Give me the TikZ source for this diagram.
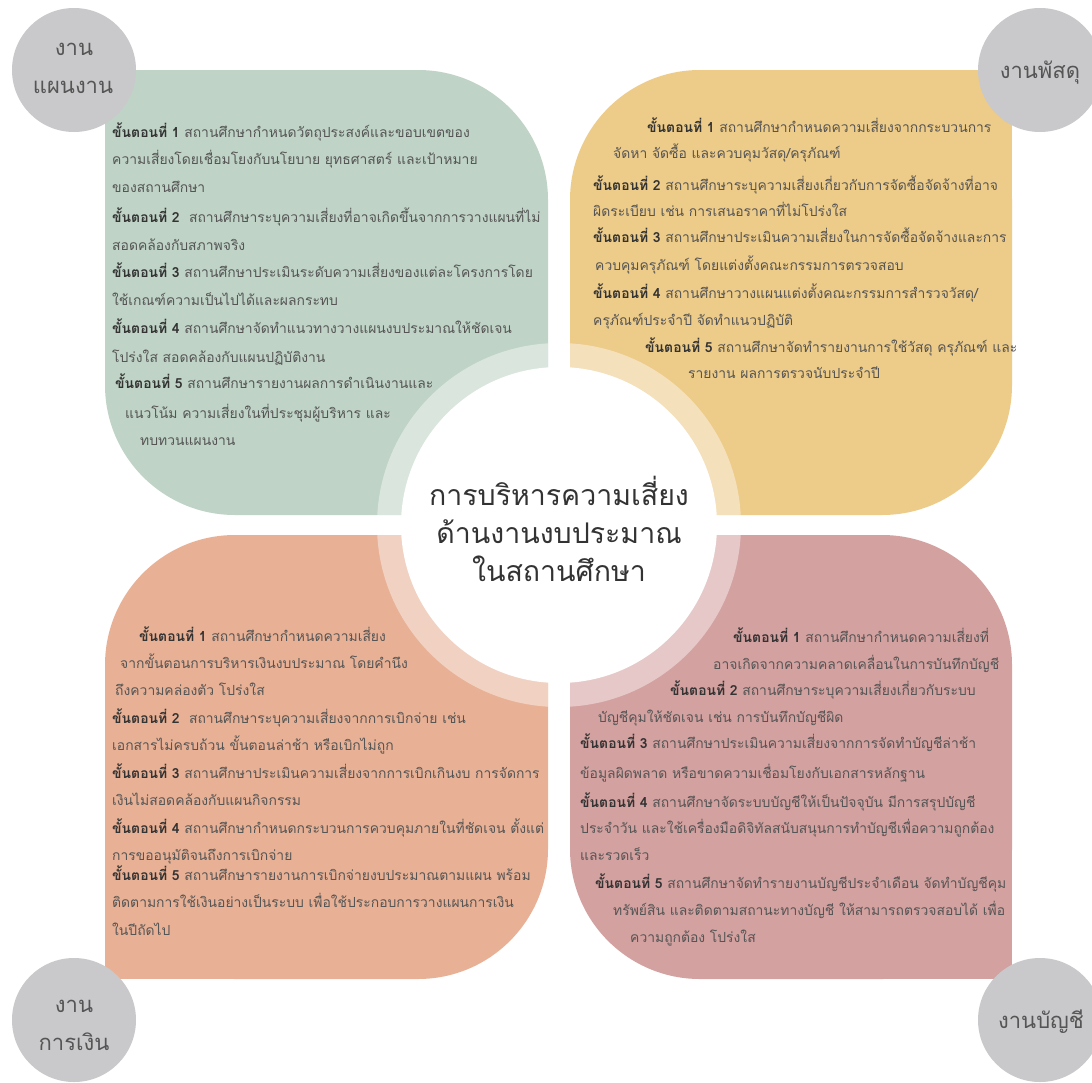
\documentclass[tikz,border=0pt]{standalone}
\usepackage{fontspec}
\setmainfont[Script=Thai]{Loma}
\definecolor{cg}{HTML}{BFD3C6}
\definecolor{cy}{HTML}{EDCB89}
\definecolor{co}{HTML}{E8B195}
\definecolor{cp}{HTML}{D3A19F}
\definecolor{cgray}{HTML}{C9C9CB}
\definecolor{txt}{HTML}{555555}
\definecolor{txtb}{HTML}{333333}
\newcommand\stp[1]{\textbf{\color{txtb}ขั้นตอนที่ #1}}
\newcommand\qline[4]{\node[bt] (#1) at (#2,#3) {#4};}
\begin{document}
\begin{tikzpicture}[x=1pt,y=-1pt,
  bt/.style={anchor=base west,inner sep=0pt,text=txt,font=\fontsize{13.9}{16}\selectfont},
  ttl/.style={anchor=base,inner sep=0pt,text=txtb,font=\fontsize{28.5}{32}\selectfont},
  lab/.style={anchor=base,inner sep=0pt,text=txt,font=\fontsize{22}{26}\selectfont},
  gcirc/.style={circle,fill=cgray,minimum size=124pt,inner sep=0pt},
  ring/.style={fill=white,opacity=0.42}]
\useasboundingbox (0,0) rectangle (1092,1082);
\clip (0,0) rectangle (1092,1082);
\fill[white] (0,0) rectangle (1092,1082);
% green (top-left)
\fill[cg,rounded corners=130pt] (105,70) rectangle (548,515);
\fill[cg] (105,70) rectangle (250,215);
\fill[cg] (400,370) rectangle (548,515);
\begin{scope}\clip (105,70) rectangle (548,515);\fill[ring] (559,525) circle[radius=182];\end{scope}
% yellow (top-right)
\fill[cy,rounded corners=130pt] (570,70) rectangle (1012,515);
\fill[cy] (870,70) rectangle (1012,215);
\fill[cy] (570,370) rectangle (720,515);
\begin{scope}\clip (570,70) rectangle (1012,515);\fill[ring] (559,525) circle[radius=182];\end{scope}
% orange (bottom-left)
\fill[co,rounded corners=130pt] (105,535) rectangle (548,979);
\fill[co] (105,835) rectangle (250,979);
\fill[co] (400,535) rectangle (548,680);
\begin{scope}\clip (105,535) rectangle (548,979);\fill[ring] (559,525) circle[radius=182];\end{scope}
% pink (bottom-right)
\fill[cp,rounded corners=130pt] (570,535) rectangle (1012,979);
\fill[cp] (870,835) rectangle (1012,979);
\fill[cp] (570,535) rectangle (720,680);
\begin{scope}\clip (570,535) rectangle (1012,979);\fill[ring] (559,525) circle[radius=182];\end{scope}
% centre
\node[circle,fill=white,minimum size=316pt,inner sep=0pt] (ctr) at (559,525) {};
\node[ttl] (t1) at (559,505) {การบริหารความเสี่ยง};
\node[ttl] (t2) at (559,543) {ด้านงานงบประมาณ};
\node[ttl] (t3) at (559,581) {ในสถานศึกษา};
% corner circles
\node[gcirc] (cTL) at (74,70) {};
\node[gcirc] (cTR) at (1040,70) {};
\node[gcirc] (cBL) at (74,1020) {};
\node[gcirc] (cBR) at (1040,1020) {};
\node[lab] (lTL1) at (74,55) {งาน};
\node[lab] (lTL2) at (73,93) {แผนงาน};
\node[lab] (lTR) at (1040,78) {งานพัสดุ};
\node[lab] (lBL1) at (74,1012) {งาน};
\node[lab] (lBL2) at (74,1050) {การเงิน};
\node[lab] (lBR) at (1041,1028) {งานบัญชี};
% green text
\qline{g1}{112}{137}{\stp{1} สถานศึกษากำหนดวัตถุประสงค์และขอบเขตของ}
\qline{g2}{112}{164}{ความเสี่ยงโดยเชื่อมโยงกับนโยบาย ยุทธศาสตร์ และเป้าหมาย}
\qline{g3}{112}{192}{ของสถานศึกษา}
\qline{g4}{112}{222}{\stp{2}\ \ สถานศึกษาระบุความเสี่ยงที่อาจเกิดขึ้นจากการวางแผนที่ไม่}
\qline{g5}{112}{250}{สอดคล้องกับสภาพจริง}
\qline{g6}{112}{277}{\stp{3} สถานศึกษาประเมินระดับความเสี่ยงของแต่ละโครงการโดย}
\qline{g7}{112}{305}{ใช้เกณฑ์ความเป็นไปได้และผลกระทบ}
\qline{g8}{112}{333}{\stp{4} สถานศึกษาจัดทำแนวทางวางแผนงบประมาณให้ชัดเจน}
\qline{g9}{112}{362}{โปร่งใส สอดคล้องกับแผนปฏิบัติงาน}
\qline{g10}{115}{388}{\stp{5} สถานศึกษารายงานผลการดำเนินงานและ}
\qline{g11}{125}{418}{แนวโน้ม ความเสี่ยงในที่ประชุมผู้บริหาร และ}
\qline{g12}{140}{445}{ทบทวนแผนงาน}
% yellow text
\qline{y1}{647}{132}{\stp{1} สถานศึกษากำหนดความเสี่ยงจากกระบวนการ}
\qline{y2}{613}{158}{จัดหา จัดซื้อ และควบคุมวัสดุ/ครุภัณฑ์}
\qline{y3}{593}{190}{\stp{2} สถานศึกษาระบุความเสี่ยงเกี่ยวกับการจัดซื้อจัดจ้างที่อาจ}
\qline{y4}{593}{216}{ผิดระเบียบ เช่น การเสนอราคาที่ไม่โปร่งใส}
\qline{y5}{593}{242}{\stp{3} สถานศึกษาประเมินความเสี่ยงในการจัดซื้อจัดจ้างและการ}
\qline{y6}{595}{270}{ควบคุมครุภัณฑ์ โดยแต่งตั้งคณะกรรมการตรวจสอบ}
\qline{y7}{593}{298}{\stp{4} สถานศึกษาวางแผนแต่งตั้งคณะกรรมการสำรวจวัสดุ/}
\qline{y8}{593}{325}{ครุภัณฑ์ประจำปี จัดทำแนวปฏิบัติ}
\qline{y9}{645}{352}{\stp{5} สถานศึกษาจัดทำรายงานการใช้วัสดุ ครุภัณฑ์ และ}
\qline{y10}{688}{378}{รายงาน ผลการตรวจนับประจำปี}
% orange text
\qline{o1}{139}{641}{\stp{1} สถานศึกษากำหนดความเสี่ยง}
\qline{o2}{120}{668}{จากขั้นตอนการบริหารเงินงบประมาณ โดยคำนึง}
\qline{o3}{115}{695}{ถึงความคล่องตัว โปร่งใส}
\qline{o4}{112}{723}{\stp{2}\ \ สถานศึกษาระบุความเสี่ยงจากการเบิกจ่าย เช่น}
\qline{o5}{112}{750}{เอกสารไม่ครบถ้วน ขั้นตอนล่าช้า หรือเบิกไม่ถูก}
\qline{o6}{112}{778}{\stp{3} สถานศึกษาประเมินความเสี่ยงจากการเบิกเกินงบ การจัดการ}
\qline{o7}{112}{805}{เงินไม่สอดคล้องกับแผนกิจกรรม}
\qline{o8}{112}{833}{\stp{4} สถานศึกษากำหนดกระบวนการควบคุมภายในที่ชัดเจน ตั้งแต่}
\qline{o9}{112}{860}{การขออนุมัติจนถึงการเบิกจ่าย}
\qline{o10}{112}{880}{\stp{5} สถานศึกษารายงานการเบิกจ่ายงบประมาณตามแผน พร้อม}
\qline{o11}{112}{907}{ติดตามการใช้เงินอย่างเป็นระบบ เพื่อใช้ประกอบการวางแผนการเงิน}
\qline{o12}{112}{935}{ในปีถัดไป}
% pink text
\qline{p1}{733}{642}{\stp{1} สถานศึกษากำหนดความเสี่ยงที่}
\qline{p2}{713}{669}{อาจเกิดจากความคลาดเคลื่อนในการบันทึกบัญชี}
\qline{p3}{670}{695}{\stp{2} สถานศึกษาระบุความเสี่ยงเกี่ยวกับระบบ}
\qline{p4}{598}{722}{บัญชีคุมให้ชัดเจน เช่น การบันทึกบัญชีผิด}
\qline{p5}{580}{748}{\stp{3} สถานศึกษาประเมินความเสี่ยงจากการจัดทำบัญชีล่าช้า}
\qline{p6}{580}{778}{ข้อมูลผิดพลาด หรือขาดความเชื่อมโยงกับเอกสารหลักฐาน}
\qline{p7}{580}{807}{\stp{4} สถานศึกษาจัดระบบบัญชีให้เป็นปัจจุบัน มีการสรุปบัญชี}
\qline{p8}{580}{833}{ประจำวัน และใช้เครื่องมือดิจิทัลสนับสนุนการทำบัญชีเพื่อความถูกต้อง}
\qline{p9}{580}{860}{และรวดเร็ว}
\qline{p10}{595}{888}{\stp{5} สถานศึกษาจัดทำรายงานบัญชีประจำเดือน จัดทำบัญชีคุม}
\qline{p11}{613}{915}{ทรัพย์สิน และติดตามสถานะทางบัญชี ให้สามารถตรวจสอบได้ เพื่อ}
\qline{p12}{630}{942}{ความถูกต้อง โปร่งใส}
\end{tikzpicture}
\end{document}
